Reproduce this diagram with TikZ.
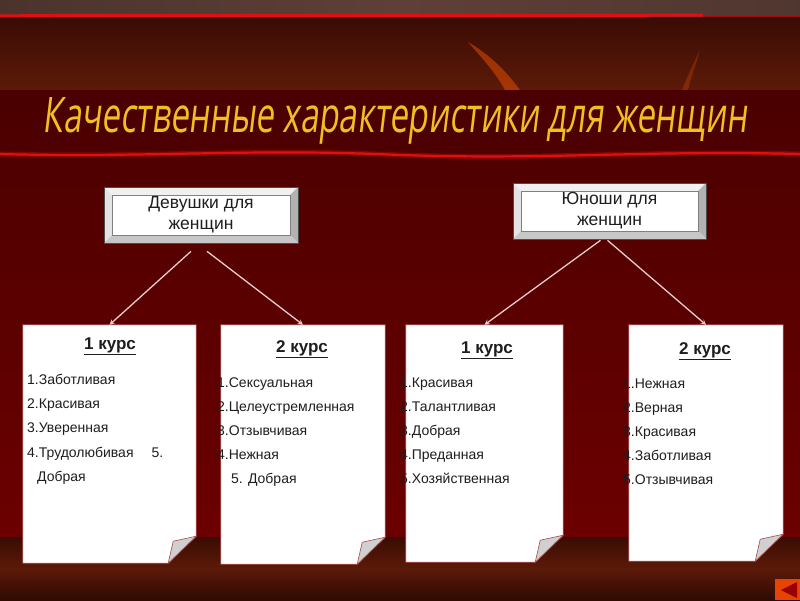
\documentclass[tikz,border=0pt]{standalone}
\usepackage{fontspec}
\setmainfont{Liberation Sans}
\newfontfamily\titlefont[FakeSlant=0.18]{Open Sans}
\usetikzlibrary{arrows,positioning}
\definecolor{maroontop}{HTML}{4A0000}
\definecolor{maroonbot}{HTML}{6C0000}
\definecolor{woodA}{HTML}{3A0C04}
\definecolor{woodB}{HTML}{5C1A08}
\definecolor{greyband}{HTML}{5E4038}
\definecolor{redline}{HTML}{E01010}
\definecolor{linkcol}{HTML}{E8CCCC}
\definecolor{pageedge}{HTML}{A84848}
\definecolor{foldcol}{HTML}{D0D0D0}
\definecolor{titlecol}{HTML}{F0C020}
\definecolor{inkcol}{HTML}{1E1E1E}
\tikzset{
  link/.style = {linkcol, line width=1.3pt, ->, >=stealth},
  sheet/.style = {inner sep=0pt, minimum width=#1},
  sheetfill/.style = {fill=white, draw=pageedge, line width=0.8pt},
  fold/.style = {fill=foldcol, draw=pageedge, line width=0.6pt},
  head/.style = {anchor=base, inner sep=0pt, text=inkcol, font=\fontsize{17}{19}\selectfont\bfseries},
  item/.style = {anchor=base west, inner sep=0pt, text=inkcol, font=\fontsize{14}{16}\selectfont},
  bevelbox/.style = {draw=black!70, fill=white, line width=0.6pt, inner sep=0pt,
    align=center, text=inkcol, font=\fontsize{17.5}{21}\selectfont,
    path picture={
      \fill[black!6] (path picture bounding box.north west) -- (path picture bounding box.north east)
        -- ([shift={(-8pt,-8pt)}]path picture bounding box.north east) -- ([shift={(8pt,-8pt)}]path picture bounding box.north west) -- cycle;
      \fill[black!11] (path picture bounding box.north west) -- (path picture bounding box.south west)
        -- ([shift={(8pt,8pt)}]path picture bounding box.south west) -- ([shift={(8pt,-8pt)}]path picture bounding box.north west) -- cycle;
      \fill[black!30] (path picture bounding box.north east) -- (path picture bounding box.south east)
        -- ([shift={(-8pt,8pt)}]path picture bounding box.south east) -- ([shift={(-8pt,-8pt)}]path picture bounding box.north east) -- cycle;
      \fill[black!22] (path picture bounding box.south west) -- (path picture bounding box.south east)
        -- ([shift={(-8pt,8pt)}]path picture bounding box.south east) -- ([shift={(8pt,8pt)}]path picture bounding box.south west) -- cycle;
      \draw[black!50, line width=0.5pt] ([shift={(8pt,-8pt)}]path picture bounding box.north west) rectangle ([shift={(-8pt,8pt)}]path picture bounding box.south east);
    }},
}
% page with a turned-up corner
\newcommand{\paper}[1]{%
  \filldraw[sheetfill] (#1.north west) -- (#1.north east) -- ([yshift=27pt]#1.south east)
    -- ([xshift=-28pt]#1.south east) -- (#1.south west) -- cycle;
  \filldraw[fold] ([xshift=-28pt]#1.south east) -- ([shift={(-23pt,22pt)}]#1.south east)
    -- ([yshift=27pt]#1.south east) -- cycle;
}

\begin{document}
\begin{tikzpicture}[x=1pt,y=-1pt]
  \useasboundingbox (0,0) rectangle (800,600);
  % background
  \shade[left color=greyband!80!black, right color=greyband] (0,0) rectangle (400,17);
  \shade[left color=greyband, right color=greyband!85!black] (400,0) rectangle (800,17);
  \shade[top color=woodA, bottom color=woodB] (0,17) rectangle (800,90);
  \fill[orange!70!red, opacity=0.45] (468,42) .. controls (490,55) and (505,70) .. (520,90)
    -- (505,90) .. controls (495,72) and (482,58) .. cycle;
  \fill[orange!70!red, opacity=0.25] (700,50) .. controls (696,65) and (690,80) .. (688,90) -- (682,90) .. controls (688,75) and (694,62) .. cycle;
  \shade[top color=maroontop, bottom color=maroonbot] (0,90) rectangle (800,537);
  \shade[top color=woodA, bottom color=woodA!80!black, middle color=woodB] (0,537) rectangle (800,600);
  \draw[redline, line width=3pt] (0,16) .. controls (150,14) and (300,17) .. (703,15);
  \draw[redline!70!black, line width=1pt] (703,16) -- (800,16);
  \draw[redline, line width=5pt, opacity=0.35] (0,154) .. controls (150,158) and (250,148) .. (400,155) .. controls (550,160) and (650,150) .. (800,154);
  \draw[redline, line width=2.2pt] (0,154) .. controls (150,158) and (250,148) .. (400,155) .. controls (550,160) and (650,150) .. (800,154);
  \fill[orange!60!red!90!black] (775,579) rectangle (800,600);
  \fill[red!60!black] (781,590) -- (797,582) -- (797,598) -- cycle;

  % title
  \node[inner sep=0pt, anchor=base, text=titlecol] (title) at (395,132)
    {\resizebox{704pt}{35pt}{\titlefont Качественные характеристики для женщин}};

  % groups
  \node[bevelbox, minimum width=194pt, minimum height=56pt] (girls) at (201,215) {Девушки для\\женщин};
  \node[bevelbox, minimum width=193pt, minimum height=56pt] (boys) at (609.5,211) {Юноши для\\женщин};

  % sheets
  \node[sheet=173pt, minimum height=238pt] (p1) at (109.5,444) {};
  \node[sheet=164pt, minimum height=239pt] (p2) at (303,444.5) {};
  \node[sheet=157pt, minimum height=237pt] (p3) at (484.5,443.5) {};
  \node[sheet=154pt, minimum height=236pt] (p4) at (706,443) {};
  \paper{p1}
  \paper{p2}
  \paper{p3}
  \paper{p4}

  \draw[link] ([shift={(-10pt,-8pt)}]girls.south) -- (p1.north);
  \draw[link] ([shift={(6pt,-8pt)}]girls.south) -- (p2.north);
  \draw[link] ([shift={(-9pt,-1pt)}]boys.south) -- (p3.north);
  \draw[link] ([shift={(-2pt,-1pt)}]boys.south) -- (p4.north);

  % 1 курс (девушки)
  \node[head] (h1) at (110,349) {\underline{1 курс}};
  \node[item] (a1) at (27,384) {1.Заботливая};
  \node[item] (a2) at (27,408) {2.Красивая};
  \node[item] (a3) at (27,432) {3.Уверенная};
  \node[item] (a4) at (27,457) {4.Трудолюбивая\hspace{18pt}5.};
  \node[item] (a5) at (37,481) {Добрая};

  % 2 курс (девушки)
  \node[head] (h2) at (302,352) {\underline{2 курс}};
  \node[item] (b1) at (217,387) {1.Сексуальная};
  \node[item] (b2) at (217,411) {2.Целеустремленная};
  \node[item] (b3) at (217,435) {3.Отзывчивая};
  \node[item] (b4) at (217,459) {4.Нежная};
  \node[item] (b5) at (231,483) {5. Добрая};

  % 1 курс (юноши)
  \node[head] (h3) at (487,353) {\underline{1 курс}};
  \node[item] (c1) at (400,387) {1.Красивая};
  \node[item] (c2) at (400,411) {2.Талантливая};
  \node[item] (c3) at (400,435) {3.Добрая};
  \node[item] (c4) at (400,459) {4.Преданная};
  \node[item] (c5) at (400,483) {5.Хозяйственная};

  % 2 курс (юноши)
  \node[head] (h4) at (705,354) {\underline{2 курс}};
  \node[item] (d1) at (623,388) {1.Нежная};
  \node[item] (d2) at (623,412) {2.Верная};
  \node[item] (d3) at (623,436) {3.Красивая};
  \node[item] (d4) at (623,460) {4.Заботливая};
  \node[item] (d5) at (623,484) {5.Отзывчивая};
\end{tikzpicture}
\end{document}
